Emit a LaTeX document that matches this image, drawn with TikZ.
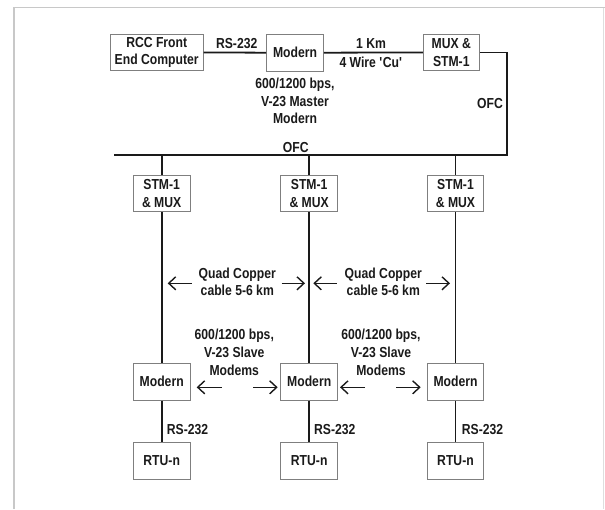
\documentclass[tikz,border=0pt]{standalone}
\usepackage{fontspec}
\setmainfont[FakeStretch=0.84]{Liberation Sans}
\usetikzlibrary{arrows.meta}
\definecolor{ink}{HTML}{1A1A1A}
\definecolor{boxc}{HTML}{7F7F7F}
\definecolor{framec}{HTML}{C8C8C8}
\begin{document}
\begin{tikzpicture}[x=1pt,y=-1pt,
  txt/.style={font=\fontsize{14.5}{17.6}\selectfont\bfseries, text=ink, align=center, inner sep=0pt},
  box/.style={txt, draw=boxc, line width=0.9pt, minimum height=36.7pt, fill=white},
  wire/.style={line width=1.8pt, draw=ink},
  arr/.style={line width=1.4pt, draw=ink, -{Straight Barb[length=7pt,width=13pt,line width=1.4pt]}}]
\useasboundingbox (0,0) rectangle (605,509);
% frame
\draw[framec, line width=1.4pt] (14,509) -- (14,7.5) -- (605,7.5);
\draw[framec!60, line width=0.8pt] (603,7.5) -- (603,509);

% top row
\node[box, minimum width=93pt] (rcc) at (156.7,52.4) {RCC Front\\End Computer};
\node[box, minimum width=56.7pt] (mod0) at (295,52.7) {Modern};
\node[box, minimum width=56pt] (mux0) at (451.3,52.4) {MUX \&\\STM-1};
\coordinate (c1) at (506.7,52.4);
\coordinate (c2) at (506.7,155);
\coordinate (c3) at (114,155);

\draw[wire] (rcc.east) -- (mod0.west);
\draw[wire] (mod0.east) -- (mux0.west);
\draw[wire] (mux0.east) -- (c1) -- (c2) -- (c3);

\node[txt] (l232) at (236.7,44) {RS-232};
\node[txt] (l1km) at (371,44) {1 Km};
\node[txt] (l4w) at (371,62.7) {4 Wire \textquotesingle Cu\textquotesingle};
\node[txt] (lmaster) at (295,101) {600/1200 bps,\\V-23 Master\\Modern};
\node[txt] (lofc1) at (490,103.3) {OFC};
\node[txt] (lofc2) at (295.7,147.3) {OFC};

% columns
\foreach \i/\x in {1/161.7, 2/309.2, 3/455.5} {
  \coordinate (t\i) at (\x,155);
  \node[box, minimum width=56.7pt] (stm\i) at (\x,193.3) {STM-1\\\& MUX};
  \node[box, minimum width=56.7pt] (mod\i) at (\x,381.7) {Modern};
  \node[box, minimum width=56.7pt] (rtu\i) at (\x,461) {RTU-n};
  \draw[wire] (t\i) -- (stm\i.north);
  \draw[wire] (stm\i.south) -- (mod\i.north);
  \draw[wire] (mod\i.south) -- (rtu\i.north);
}
\node[txt, anchor=west] (r1) at (166.7,430) {RS-232};
\node[txt, anchor=west] (r2) at (314,430) {RS-232};
\node[txt, anchor=west] (r3) at (461.7,430) {RS-232};

% quad copper
\node[txt] (q1) at (237.3,282) {Quad Copper\\cable 5-6 km};
\node[txt] (q2) at (383.3,282) {Quad Copper\\cable 5-6 km};
\coordinate (qa1) at (191.7,283.3); \coordinate (qb1) at (167.7,283.3);
\coordinate (qa2) at (281.7,283.3); \coordinate (qb2) at (305,283.3);
\coordinate (qa3) at (336.7,283.3); \coordinate (qb3) at (313.3,283.3);
\coordinate (qa4) at (426,283.3);   \coordinate (qb4) at (450,283.3);
\foreach \k in {1,2,3,4} \draw[arr] (qa\k) -- (qb\k);

% slave modems
\node[txt] (s1) at (234.3,352.3) {600/1200 bps,\\V-23 Slave\\Modems};
\node[txt] (s2) at (381,352.3) {600/1200 bps,\\V-23 Slave\\Modems};
\coordinate (sa1) at (221.7,387.3); \coordinate (sb1) at (196.7,387.3);
\coordinate (sa2) at (253.3,387.3); \coordinate (sb2) at (277.7,387.3);
\coordinate (sa3) at (365,387.3);   \coordinate (sb3) at (340,387.3);
\coordinate (sa4) at (396,387.3);   \coordinate (sb4) at (420.7,387.3);
\foreach \k in {1,2,3,4} \draw[arr] (sa\k) -- (sb\k);
\end{tikzpicture}
\end{document}
